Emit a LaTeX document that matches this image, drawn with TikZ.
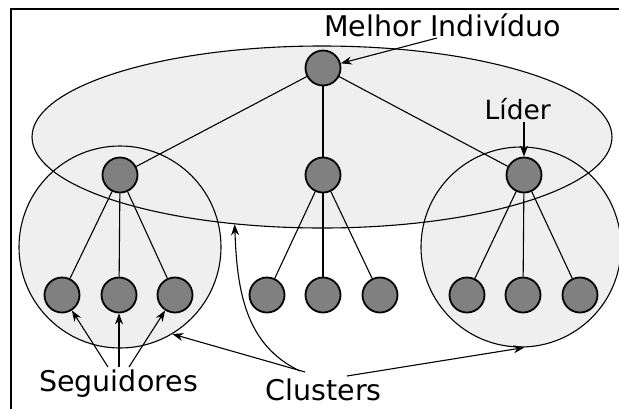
\documentclass[tikz,border=0pt]{standalone}
\usepackage{fontspec}
\setmainfont{DejaVu Sans}
\usetikzlibrary{arrows.meta,shapes.geometric}
\definecolor{clfill}{HTML}{EFEFEF}
\definecolor{ndfill}{HTML}{808080}
\begin{document}
\begin{tikzpicture}[x=1pt,y=-1pt,
  ind/.style={circle,draw,fill=ndfill,line width=1.8pt,minimum size=35pt,inner sep=0pt},
  link/.style={line width=1.1pt},
  pointer/.style={line width=1.1pt,-{Stealth[length=11pt,width=8pt]}},
  lbl/.style={font=\fontsize{28.5}{34}\selectfont,inner sep=0pt,anchor=base west},
  grp/.style={draw,line width=1.1pt,inner sep=0pt}]
\useasboundingbox (0,0) rectangle (619,408);
% frame
\draw[line width=1.5pt] (11,410) -- (11,9) -- (621,9);
% group fills
\fill[clfill] (322,137) ellipse [x radius=290pt, y radius=91pt];
\fill[clfill] (120,247) circle [radius=101pt];
\fill[clfill] (521,247) circle [radius=100pt];
% group outlines
\node[grp,ellipse,minimum width=580pt,minimum height=182pt] (pop) at (322,137) {};
\node[grp,circle,minimum size=202pt] (lc) at (120,247) {};
\node[grp,circle,minimum size=200pt] (rc) at (521,247) {};
% individuals
\node[ind] (n0) at (323,68) {};
\node[ind] (a1) at (120,175) {};
\node[ind] (a2) at (323,175) {};
\node[ind] (a3) at (524,175) {};
\node[ind] (b11) at (62,295) {};
\node[ind] (b12) at (119,295) {};
\node[ind] (b13) at (175,295) {};
\node[ind] (b21) at (267,295) {};
\node[ind] (b22) at (323,295) {};
\node[ind] (b23) at (380,295) {};
\node[ind] (b31) at (467,295) {};
\node[ind] (b32) at (523,295) {};
\node[ind] (b33) at (580,295) {};
% links
\draw[link] (n0) -- (a1);
\draw[link] (n0) -- (a2);
\draw[link] (n0) -- (a3);
\draw[link] (a1) -- (b11);
\draw[link] (a1) -- (b12);
\draw[link] (a1) -- (b13);
\draw[link] (a2) -- (b21);
\draw[link] (a2) -- (b22);
\draw[link] (a2) -- (b23);
\draw[link] (a3) -- (b31);
\draw[link] (a3) -- (b32);
\draw[link] (a3) -- (b33);
% labels
\node[lbl] (tbest) at (324,36) {Melhor Indivíduo};
\node[lbl,font=\fontsize{26.5}{32}\selectfont] (tlead) at (484.5,119) {Líder};
\node[lbl] (tfol) at (39,391) {Seguidores};
\node[lbl] (tclu) at (265.5,400) {Clusters};
% pointer start points
\coordinate (pbest) at (437,38);
\coordinate (plead) at (524,122);
\coordinate (pf1) at (108,367);
\coordinate (pf2) at (119,367);
\coordinate (pf3) at (129,367);
\coordinate (pc1) at (305,372);
\coordinate (pc2) at (300,371);
\coordinate (pc3) at (347,376);
% pointers
\draw[pointer] (pbest) -- (n0);
\draw[pointer] (plead) -- (a3);
\draw[pointer] (pf1) -- (b11);
\draw[pointer] (pf2) -- (b12);
\draw[pointer] (pf3) -- (b13);
\draw[pointer] (pc1) -- (lc.-59);
\draw[pointer] (pc2) .. controls (245,345) and (237,290) .. (pop.-135);
\draw[pointer] (pc3) -- (rc.-88);
\end{tikzpicture}
\end{document}
